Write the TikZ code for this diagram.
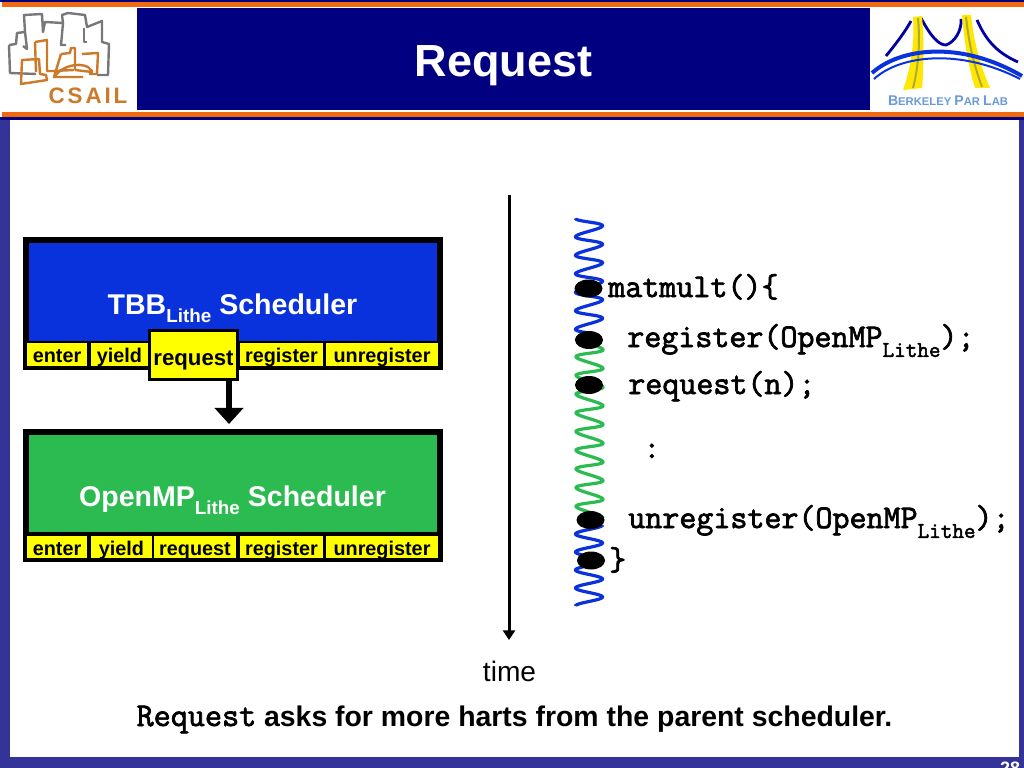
\documentclass[tikz,border=0pt]{standalone}
\usepackage{fontspec}
\setmainfont{Liberation Sans}
\setmonofont[FakeBold=2.2]{Latin Modern Mono}
\newfontfamily\csailfont[LetterSpace=13]{Liberation Sans}
\usetikzlibrary{arrows.meta}
\definecolor{slideblue}{HTML}{333399}
\definecolor{navy}{HTML}{000080}
\definecolor{bandorange}{HTML}{F26A10}
\definecolor{tbbblue}{HTML}{0A32DC}
\definecolor{ompgreen}{HTML}{2BBB50}
\definecolor{cellyellow}{HTML}{FFFF00}
\definecolor{csailorange}{HTML}{CC7A2A}
\definecolor{csailgray}{HTML}{787878}
\definecolor{berkeleyblue}{HTML}{6A9AD8}
\newcommand{\lsub}[1]{\raisebox{-.3em}{\fontsize{#1}{#1}\selectfont Lithe}}
\newcommand{\fs}[1]{\fontsize{#1}{#1}\selectfont}
\tikzset{
    frame/.style={fill=black,inner sep=0pt,outer sep=0pt},
    cell/.style={fill=cellyellow,inner sep=0pt,outer sep=0pt,minimum height=.5625cm,
        text height=.45cm,text depth=.05cm,font=\bfseries\fs{14.1pt}},
    sched/.style={text=white,font=\bfseries\fs{20.3pt},anchor=base},
    code/.style={font=\ttfamily\fs{23.5pt},anchor=base west,inner sep=0pt},
    coil/.style={line width=.08cm,line join=round},
    logo/.style={line width=.06cm,line join=round},
    cable/.style={line width=.07cm,navy!70!blue},
    tower/.style={fill=yellow!90!orange}
}
\begin{document}
\begin{tikzpicture}[x=.025cm,y=-.025cm]
    \useasboundingbox (0,0) rectangle (1024,768);
    \clip (0,0) rectangle (1024,768);

    % slide
    \fill[slideblue] (0,0) rectangle (1024,768);
    \fill[white] (10,120) rectangle (1018.5,757);

    % header
    \fill[white] (0,2) rectangle (1024,117);
    \fill[navy] (0,0) rectangle (1024,2);
    \fill[navy] (0,117) rectangle (1024,120);
    \fill[bandorange] (2,2.5) rectangle (1024,7);
    \fill[bandorange] (2,112) rectangle (1024,117);
    \fill[navy] (136.5,8) rectangle (870,110.5);
    \node[text=white,font=\bfseries\fs{32pt},anchor=base] (title) at (503.5,77) {Request};

    % csail logo
    \draw[logo,csailgray] (9,45) -- (16,44) -- (17,33) -- (25,32) -- (24,15) -- (42,14) -- (43,32)
        -- (45,22) -- (63,23) -- (62,15) -- (68,13) -- (85,15) -- (87,27) -- (102,21) -- (102,42)
        -- (109,44) -- (108,75) -- (97,75);
    \draw[logo,csailgray] (9,45) -- (10,73) -- (36,74);
    \draw[logo,csailgray] (25,32) -- (27,49) -- (23,46);
    \draw[logo,csailgray] (63,23) -- (61,45) -- (66,45);
    \draw[logo,csailgray] (84,28) -- (84,42) -- (87,42);
    \draw[logo,csailorange] (22,60) -- (39,59) -- (40,74) -- (46,75) -- (47,80) -- (21,84) -- cycle;
    \draw[logo,csailorange] (35,42) -- (47,40) -- (47,71) -- (53,71) -- (74,70);
    \draw[logo,csailorange] (35,42) -- (36,72);
    \draw[logo,csailorange] (61,54) -- (70,53) -- (71,48) -- (75,48) -- (75,70);
    \draw[logo,csailorange] (61,54) -- (54,77) -- (83,77);
    \draw[logo,csailorange] (54,77) .. controls (62,66) and (78,62) .. (88,67) -- (92,71) -- (92,72) -- (75,70);
    \draw[logo,csailorange] (82,54) -- (98,53) -- (97,74) -- (89,74);
    \node[text=csailorange,font=\csailfont\bfseries\fs{15.9pt},anchor=base] (csail) at (88,104) {CSAIL};

    % berkeley logo
    \draw[cable] (886,56) .. controls (895,45) and (905,32) .. (911,21);
    \draw[cable] (921,18) .. controls (930,35) and (938,45) .. (946,45)
        .. controls (955,42) and (962,30) .. (961,19);
    \draw[cable] (977,20) .. controls (985,38) and (995,52) .. (1018,62);
    \fill[tower] (913,17) -- (922,16) .. controls (924,40) and (924,65) .. (922,88) -- (903,90)
        .. controls (910,70) and (915,45) .. cycle;
    \fill[tower] (962,15) -- (971,15) .. controls (974,45) and (982,70) .. (990,88) -- (975,88)
        .. controls (968,65) and (964,40) .. cycle;
    \draw[line width=.05cm,olive!70] (918,18) .. controls (920,40) and (919,65) .. (913,88);
    \draw[line width=.05cm,olive!70] (966,17) .. controls (969,45) and (974,65) .. (982,87);
    \draw[line width=.1cm,tbbblue] (872,73) .. controls (900,48) and (960,40) .. (1022,76);
    \draw[line width=.05cm,tbbblue] (874,79) .. controls (900,55) and (960,48) .. (1020,79);
    \node[text=berkeleyblue,font=\bfseries\fs{8pt},anchor=base] (berkeley) at (948,105.5)
        {{\fs{10pt}B}ERKELEY {\fs{10pt}P}AR {\fs{10pt}L}AB};

    % TBB scheduler
    \node[frame,minimum width=10.5cm,minimum height=3.325cm] (tbb) at (233,303.5) {};
    \node[fill=tbbblue,inner sep=0pt,minimum width=10.2cm,minimum height=2.45cm] (tbbfill) at (233,292) {};
    \node[sched] (tbblabel) at (232.5,314) {TBB\lsub{13.4pt} Scheduler};
    \foreach \nm/\xa/\xb in {enter/27/87,yield/91/148,register/240/323,unregister/326/438}
        \node[cell,minimum width={(\xb-\xa)*.025cm}] (tbb\nm) at ({(\xa+\xb)/2},354.75) {\nm};
    \node[cell,draw=black,line width=.075cm,minimum width=2.2cm,minimum height=1.225cm,
        text height=.55cm,text depth=.05cm,font=\bfseries\fs{15.8pt}] (tbbrequest) at (193.5,355) {request};

    % OpenMP scheduler
    \node[frame,minimum width=10.5cm,minimum height=3.325cm] (omp) at (233,495.5) {};
    \node[fill=ompgreen,inner sep=0pt,minimum width=10.2cm,minimum height=2.425cm] (ompfill) at (233,483.5) {};
    \node[sched] (omplabel) at (232.5,506) {OpenMP\lsub{13.4pt} Scheduler};
    \foreach \nm/\xa/\xb in {enter/27/87,yield/91/152,request/154/236,register/240/323,unregister/326/438}
        \node[cell,minimum width={(\xb-\xa)*.025cm}] (omp\nm) at ({(\xa+\xb)/2},547) {\nm};

    % request arrow
    \coordinate (tip) at (229,424);
    \draw[-{Triangle[length=.4cm,width=.7cm]},line width=.15cm] (tip |- tbbrequest.south) -- (tip);

    % time axis
    \coordinate (start) at (509,195);
    \coordinate (end) at (509,640);
    \draw[-{Triangle[length=.24cm,width=.3cm]},line width=.075cm] (start) -- (end);
    \node[font=\fs{20pt},anchor=base] (time) at (509.5,681) {time};

    % threads
    \draw[coil,tbbblue] plot[domain=0:2240,samples=300,variable=\t,smooth]
        ({589-13.5*cos(\t)},{218.3+\t/360*18.5-.9*(1-cos(\t))});
    \draw[coil,ompgreen] plot[domain=0:3420,samples=400,variable=\t,smooth]
        ({589.5-13.5*cos(\t)},{338+\t/360*18.7+1.2*(1-cos(\t))});
    \draw[coil,tbbblue] plot[domain=0:1620,samples=200,variable=\t,smooth]
        ({589-13.5*cos(\t)},{606-\t/360*18});

    % calls
    \foreach \ex/\ey in {588.5/288.5,589/340,589/385,590.5/520,591/560.5}
        \fill (\ex,\ey) ellipse [x radius=14,y radius=9];

    % code
    \node[code] (matmult) at (608,297) {matmult()\{};
    \node[code] (register) at (627,347) {register(OpenMP\lsub{16pt});};
    \node[code] (request) at (628,394) {request(n);};
    \node[code] (dots) at (643,458) {:};
    \node[code] (unregister) at (628,528) {unregister(OpenMP\lsub{16pt});};
    \node[code] (close) at (609,570) {\}};

    % caption
    \node[font=\bfseries\fs{20.2pt},anchor=base,inner sep=0pt] (caption) at (514.5,726)
        {{\ttfamily\mdseries\fs{23.6pt}Request} asks for more harts from the parent scheduler.};
    \node[text=white,font=\bfseries\fs{12.8pt},anchor=base] (page) at (1010,774) {28};
\end{tikzpicture}
\end{document}
